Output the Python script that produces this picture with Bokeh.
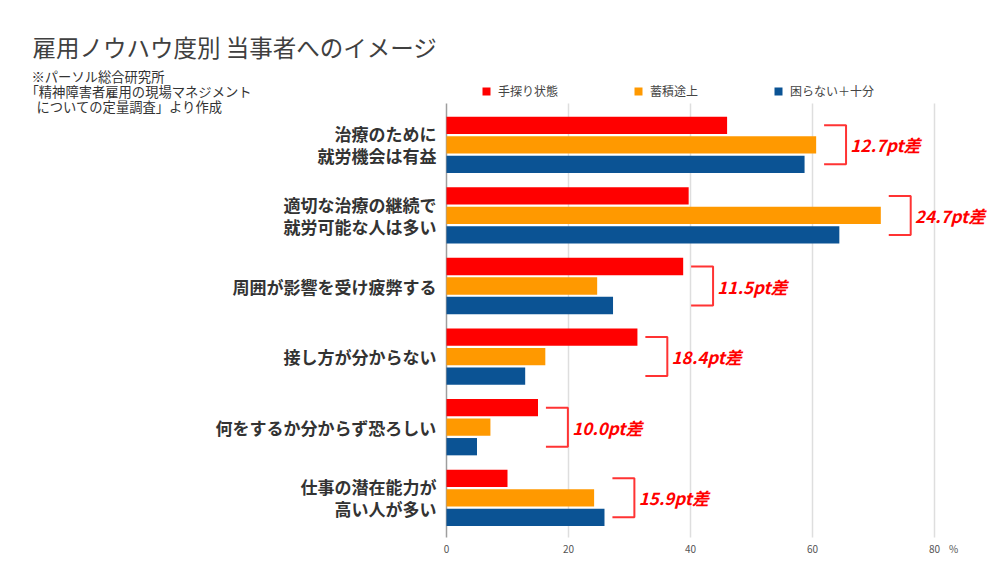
import numpy as np
from bokeh.plotting import figure
from bokeh.models import Range1d, Legend, LegendItem
from bokeh.core.properties import value
from bokeh.embed import file_html
from bokeh.resources import INLINE

# ---------------- data ----------------
title_text = "雇用ノウハウ度別 当事者へのイメージ"
source_lines = ["※パーソル総合研究所", "「精神障害者雇用の現場マネジメント", "についての定量調査」より作成"]
categories = [
    ["治療のために", "就労機会は有益"],
    ["適切な治療の継続で", "就労可能な人は多い"],
    ["周囲が影響を受け疲弊する"],
    ["接し方が分からない"],
    ["何をするか分からず恐ろしい"],
    ["仕事の潜在能力が", "高い人が多い"],
]
series_names = ["手探り状態", "蓄積途上", "困らない＋十分"]
red_vals = [46.0, 39.7, 38.8, 31.3, 15.0, 10.0]
orange_vals = [60.6, 71.2, 24.7, 16.2, 7.2, 24.2]
blue_vals = [58.7, 64.4, 27.3, 12.9, 5.0, 25.9]
diff_labels = ["12.7pt差", "24.7pt差", "11.5pt差", "18.4pt差", "10.0pt差", "15.9pt差"]
x_ticks = [0, 20, 40, 60, 80]
unit_label = "%"

colors = ["#ff0000", "#ff9900", "#0b5394"]
JP = "Noto Sans CJK JP"

# ---------------- layout (pixel geometry of the page) ----------------
W, H = 992, 555
X0_PX, PX_PER_UNIT = 446.0, 6.1          # x = 0 position and scale
G0_PX, PX_PER_GROUP = 144.3, 70.6        # first group centre and group pitch


def sx(px):
    return (px - X0_PX) / PX_PER_UNIT


def sy(py):
    return 0.5 + (py - G0_PX) / PX_PER_GROUP


p = figure(width=W, height=H, output_backend="svg", toolbar_location=None,
           x_range=Range1d(sx(0), sx(W)), y_range=Range1d(sy(H), sy(0)),
           min_border=0, min_border_left=0, min_border_right=0,
           min_border_top=0, min_border_bottom=0)
p.outline_line_color = None
p.background_fill_color = "white"
p.axis.visible = False
p.grid.visible = False

pos = np.arange(len(categories)) + 0.5
pitch = 0.276
offsets = [-pitch, 0.0, pitch]
all_vals = [red_vals, orange_vals, blue_vals]

frame_top, frame_bot = sy(103), sy(537)

# vertical gridlines and axis line
grid_x = x_ticks[1:]
p.segment(x0=grid_x, x1=grid_x, y0=[frame_top] * len(grid_x), y1=[frame_bot] * len(grid_x),
          line_color="#dedede", line_width=1.5)
p.segment(x0=[0], x1=[0], y0=[frame_top], y1=[frame_bot], line_color="#9e9e9e", line_width=1.5)

items = []
for vals, col, name, off in zip(all_vals, colors, series_names, offsets):
    r = p.hbar(y=pos + off, left=0, right=vals, height=0.245,
               fill_color=col, line_color=None)
    items.append(LegendItem(label=name, renderers=[r]))

# tick labels
p.text(x=x_ticks, y=[sy(548)] * len(x_ticks), text=[str(t) for t in x_ticks],
       text_font=value(JP), text_font_size="10px", text_color="#555555",
       text_align="center", text_baseline="middle")
p.text(x=[x_ticks[-1] + 19 / PX_PER_UNIT], y=[sy(548)], text=[unit_label],
       text_font=value(JP), text_font_size="10px", text_color="#555555",
       text_align="center", text_baseline="middle")

# legend
legend = Legend(items=items, orientation="horizontal", location=(481, H - 99),
                label_text_font=JP, label_text_font_size="12px", label_text_color="#444444",
                glyph_width=10, glyph_height=10, label_standoff=7, spacing=75,
                label_height=12, padding=0, margin=0,
                border_line_color=None, background_fill_alpha=0)
p.add_layout(legend)

# category labels
lab_x, lab_y, lab_t = [], [], []
for c, lines in zip(pos, categories):
    offs = [0.0] if len(lines) == 1 else [-11 / PX_PER_GROUP, 11 / PX_PER_GROUP]
    for t, yo in zip(lines, offs):
        lab_x.append(sx(436))
        lab_y.append(c + yo)
        lab_t.append(t)
p.text(x=lab_x, y=lab_y, text=lab_t, text_font=value(JP), text_font_style="bold",
       text_font_size="17px", text_color="#333333", text_align="right", text_baseline="middle")

# brackets and difference annotations
gap, bw = 1.3, 3.6
xs, ys, tx = [], [], []
for c, a, b, d in zip(pos, red_vals, orange_vals, blue_vals):
    x0 = max(a, b, d) + gap
    x1 = x0 + bw
    xs.append([x0, x1, x1, x0])
    ys.append([c - pitch, c - pitch, c + pitch, c + pitch])
    tx.append(x1 + 0.7)
p.multi_line(xs=xs, ys=ys, line_color="#ff3333", line_width=2)
p.text(x=tx, y=list(pos), text=diff_labels, text_font=value(JP),
       text_font_style="bold italic", text_font_size="17px", text_color="#ff0000",
       text_align="left", text_baseline="middle")

# title and source note
p.text(x=[sx(32)], y=[sy(46)], text=[title_text], text_font=value(JP),
       text_font_size="23.5px", text_color="#404040", text_baseline="middle")
p.text(x=[sx(31), sx(25), sx(36)], y=[sy(76), sy(91), sy(106)], text=source_lines,
       text_font=value(JP), text_font_size="13.3px", text_color="#333333",
       text_baseline="middle")

open("out.html", "w").write(file_html(p, INLINE))
